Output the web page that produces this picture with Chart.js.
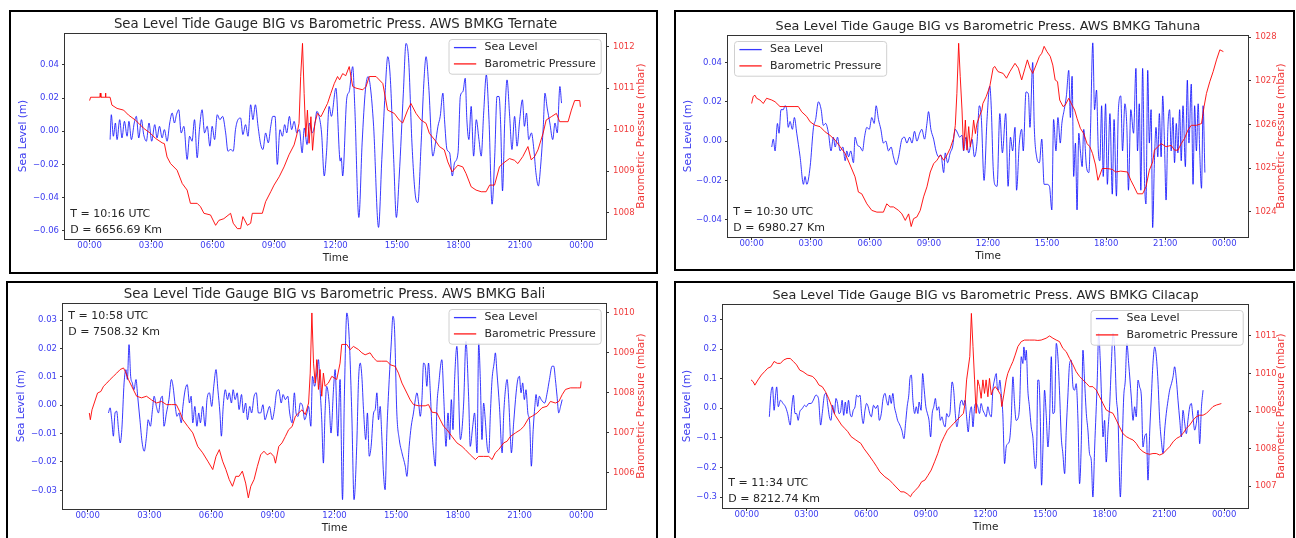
<!DOCTYPE html>
<html>
<head>
<meta charset="utf-8">
<script src="https://cdn.jsdelivr.net/npm/chart.js@4.4.0/dist/chart.umd.min.js"></script>
<style>
  html, body { margin: 0; padding: 0; background: #fff; width: 1296px; height: 538px; overflow: hidden; }
  .panel { position: absolute; border: 2px solid #000; box-sizing: border-box; background: #fff; overflow: hidden; }
  .panel canvas { display: block; }
</style>
</head>
<body>
<div class="panel" style="left:9px;top:10px;width:649px;height:264px"><canvas id="c1" width="645" height="260"></canvas></div>
<div class="panel" style="left:674px;top:10px;width:621px;height:261px"><canvas id="c2" width="617" height="257"></canvas></div>
<div class="panel" style="left:6px;top:281px;width:652px;height:264px"><canvas id="c3" width="648" height="260"></canvas></div>
<div class="panel" style="left:674px;top:281px;width:621px;height:264px"><canvas id="c4" width="617" height="260"></canvas></div>
<script>
// ---- shared axis data ----
const hourTicks = [0, 3, 6, 9, 12, 15, 18, 21, 24];
const hourLabels = ['00:00', '03:00', '06:00', '09:00', '12:00', '15:00', '18:00', '21:00', '00:00'];

// ---- Ternate ----
const ternateSeaTime = [1.0,1.06,1.16,1.26,1.34,1.47,1.58,1.70,1.83,1.92,2.04,2.18,2.28,2.40,2.53,2.64,2.77,2.90,3.03,3.18,3.29,3.41,3.54,3.65,3.78,3.91,4.03,4.14,4.24,4.35,4.47,4.60,4.76,4.88,5.00,5.12,5.25,5.36,5.49,5.61,5.74,5.87,5.98,6.10,6.23,6.36,6.49,6.64,6.75,6.88,7.01,7.12,7.24,7.37,7.48,7.61,7.73,7.86,7.97,8.09,8.22,8.35,8.46,8.59,8.72,8.84,8.94,9.05,9.16,9.29,9.41,9.52,9.62,9.75,9.86,9.98,10.11,10.24,10.37,10.48,10.61,10.73,10.86,10.99,11.09,11.20,11.32,11.45,11.56,11.69,11.80,12.02,12.23,12.28,12.35,12.55,12.67,12.84,12.94,13.14,13.30,13.46,13.59,13.70,13.86,14.10,14.26,14.42,14.55,14.67,14.84,14.97,15.11,15.31,15.44,15.57,15.73,15.90,16.02,16.18,16.31,16.42,16.55,16.75,16.88,17.00,17.11,17.24,17.32,17.44,17.57,17.70,17.81,17.98,18.09,18.22,18.33,18.41,18.51,18.62,18.74,18.87,19.00,19.11,19.23,19.36,19.49,19.64,19.77,19.88,19.98,20.06,20.15,20.26,20.37,20.50,20.61,20.74,20.86,20.99,21.12,21.22,21.32,21.43,21.56,21.68,21.78,21.90,22.01,22.14,22.22,22.33,22.46,22.60,22.71,22.82,22.95,23.03];
const ternateSeaLevel = [-0.005,0.010,-0.003,0.005,-0.005,0.007,-0.004,0.006,-0.003,0.006,-0.005,0.005,0.009,-0.004,0.007,-0.002,-0.006,0.005,-0.006,0.004,-0.004,0.003,-0.004,0.001,-0.006,0.005,0.011,0.005,0.010,0.013,-0.001,0.003,-0.017,-0.003,-0.006,0.007,-0.016,0.001,0.013,-0.001,0.003,-0.009,0.003,-0.005,0.010,0.007,0.009,-0.001,-0.012,-0.011,-0.012,0.001,0.007,0.008,-0.002,0.004,-0.003,0.016,0.007,0.016,0.003,-0.008,-0.011,-0.001,-0.007,0.003,0.009,0.009,-0.020,0.001,-0.003,0.004,-0.001,0.009,0.001,0.006,-0.001,0.001,-0.013,0.002,-0.008,0.005,-0.001,0.004,0.012,0.009,-0.001,-0.027,-0.013,0.015,0.009,0.026,-0.018,-0.016,-0.027,0.020,0.024,0.039,0.015,-0.052,-0.007,0.025,0.033,0.027,0.003,-0.058,-0.017,0.023,0.045,0.033,-0.017,-0.052,-0.027,0.023,0.053,0.043,-0.007,-0.039,-0.043,-0.007,0.029,0.045,0.027,-0.015,-0.007,0.003,0.009,0.023,0.007,-0.011,-0.013,-0.027,-0.019,-0.013,0.021,0.024,0.032,0.007,-0.005,0.015,-0.015,0.007,-0.005,-0.015,0.011,0.034,0.007,-0.044,-0.015,0.021,0.021,0.004,-0.036,0.007,0.031,0.009,-0.011,0.009,-0.009,0.007,0.019,0.003,0.011,-0.005,-0.001,-0.011,-0.025,-0.033,-0.021,0.003,0.023,0.014,0.005,-0.005,0.005,-0.001,0.027,0.017];
const ternatePresTime = [0.0,0.05,0.5,0.52,0.55,0.76,0.77,0.8,1.0,1.09,1.34,1.66,1.9,2.23,2.4,2.64,2.97,3.21,3.54,3.65,3.78,3.95,4.27,4.52,4.76,4.92,5.25,5.41,5.58,5.9,6.15,6.31,6.55,6.88,7.01,7.21,7.37,7.48,7.7,7.86,7.94,8.43,8.59,8.84,9.0,9.25,9.49,9.73,9.98,10.11,10.22,10.3,10.39,10.47,10.55,10.63,10.71,10.8,10.88,10.99,11.12,11.29,11.45,11.61,11.77,11.94,12.1,12.2,12.35,12.5,12.67,12.84,13.0,13.33,13.49,13.65,13.98,14.31,14.54,14.87,15.11,15.28,15.52,15.68,15.93,16.17,16.42,16.58,16.91,17.07,17.31,17.48,17.69,17.97,18.21,18.37,18.62,18.86,19.11,19.35,19.52,19.76,20.0,20.16,20.49,20.73,20.9,21.14,21.39,21.55,21.72,21.88,22.13,22.28,22.53,22.78,22.94,23.35,23.51,23.67,23.92,23.95];
const ternatePressure = [1010.7,1010.78,1010.78,1010.88,1010.78,1010.78,1010.88,1010.78,1010.78,1010.59,1010.51,1010.47,1010.35,1010.23,1010.15,1010.03,1009.91,1009.79,1009.68,1009.66,1009.34,1009.18,1009.02,1008.70,1008.54,1008.22,1008.22,1008.14,1007.98,1007.94,1007.69,1007.81,1007.85,1007.98,1007.74,1007.61,1007.61,1007.9,1007.69,1007.74,1007.98,1007.98,1008.26,1008.50,1008.66,1008.86,1009.10,1009.39,1009.63,1009.87,1010.15,1011.28,1012.08,1010.87,1009.83,1010.47,1009.67,1010.31,1009.50,1010.15,1010.39,1010.31,1010.47,1010.63,1010.87,1011.11,1011.28,1011.2,1011.35,1011.3,1011.52,1011.04,1011.0,1010.96,1011.04,1011.28,1011.28,1011.11,1010.47,1010.39,1010.23,1010.16,1010.47,1010.63,1010.39,1010.23,1010.15,1009.91,1009.71,1009.59,1009.51,1009.22,1008.98,1009.14,1009.10,1008.94,1008.62,1008.54,1008.50,1008.50,1008.66,1008.66,1009.10,1009.18,1009.30,1009.26,1009.18,1009.35,1009.59,1009.27,1009.35,1009.51,1009.91,1010.23,1010.31,1010.39,1010.19,1010.19,1010.47,1010.70,1010.70,1010.55];
const ternateSeaTicks = [-0.06, -0.04, -0.02, 0, 0.02, 0.04];
const ternatePresTicks = [1008, 1009, 1010, 1011, 1012];
const ternateNote = ['T = 10:16 UTC', 'D = 6656.69 Km'];

// ---- Tahuna ----
const tahunaSeaTime = [1.02,1.10,1.19,1.31,1.39,1.49,1.61,1.69,1.78,1.86,1.95,2.07,2.17,2.29,2.46,2.63,2.71,2.80,2.97,3.14,3.25,3.39,3.53,3.64,3.76,3.90,4.03,4.15,4.24,4.36,4.49,4.63,4.75,4.83,4.92,5.03,5.17,5.25,5.37,5.51,5.63,5.73,5.85,5.97,6.10,6.22,6.32,6.44,6.56,6.69,6.81,6.95,7.08,7.20,7.34,7.46,7.63,7.76,7.88,8.02,8.14,8.27,8.39,8.53,8.64,8.78,8.90,8.98,9.10,9.24,9.36,9.49,9.61,9.75,9.83,9.95,10.08,10.20,10.34,10.46,10.56,10.68,10.76,10.88,11.02,11.19,11.31,11.44,11.56,11.66,11.80,11.95,12.09,12.17,12.26,12.34,12.46,12.60,12.73,12.90,13.02,13.14,13.25,13.37,13.45,13.59,13.71,13.79,13.93,14.05,14.13,14.27,14.35,14.47,14.61,14.73,14.85,14.99,15.12,15.24,15.33,15.45,15.55,15.67,15.75,15.87,15.98,16.10,16.18,16.27,16.35,16.44,16.52,16.61,16.69,16.78,16.86,17.00,17.12,17.20,17.32,17.41,17.51,17.60,17.68,17.77,17.85,17.97,18.06,18.19,18.31,18.40,18.52,18.62,18.74,18.83,18.95,19.05,19.13,19.25,19.39,19.51,19.59,19.68,19.76,19.85,19.94,20.02,20.11,20.19,20.28,20.36,20.45,20.53,20.62,20.70,20.79,20.87,20.96,21.04,21.13,21.22,21.30,21.39,21.47,21.56,21.64,21.73,21.81,21.90,22.02,22.12,22.20,22.32,22.41,22.49,22.58,22.67,22.75,22.84,22.92,23.01];
const tahunaSeaLevel = [-0.003,0.001,-0.005,0.009,0.004,0.016,0.016,0.018,0.016,0.007,0.010,0.006,0.012,0.004,-0.008,-0.022,-0.018,-0.022,-0.013,0.007,0.011,0.020,0.016,0.008,0.009,0.004,-0.005,0.002,-0.003,0.002,-0.005,-0.003,-0.010,-0.005,-0.008,-0.005,-0.011,0.002,-0.002,-0.003,-0.005,0.002,0.007,0.006,0.012,0.009,0.018,0.011,0.006,-0.001,0.000,-0.005,-0.003,-0.008,-0.012,-0.008,0.001,0.002,-0.001,0.002,-0.001,0.005,0.000,0.004,0.006,0.001,0.009,0.015,0.006,0.001,-0.005,-0.008,-0.007,-0.016,-0.006,-0.011,-0.006,-0.003,0.006,0.004,0.002,0.003,-0.005,0.002,-0.006,0.001,-0.008,-0.001,0.018,0.012,-0.020,0.011,0.028,0.016,-0.013,-0.022,-0.023,0.014,-0.006,0.014,-0.023,0.002,-0.005,0.007,-0.025,-0.001,0.006,-0.005,0.025,0.024,0.007,0.040,0.007,-0.008,-0.011,0.001,-0.022,-0.022,-0.023,-0.035,0.011,-0.005,0.012,-0.001,0.009,0.016,0.023,0.036,0.012,0.033,-0.018,-0.001,-0.035,0.004,-0.005,-0.013,0.006,-0.013,-0.016,0.004,0.050,0.016,0.026,-0.005,-0.010,0.018,-0.018,0.019,-0.022,0.014,-0.027,0.011,-0.028,0.016,0.023,-0.005,0.019,0.007,-0.025,0.016,0.004,0.037,-0.005,0.019,-0.025,0.037,-0.018,-0.032,0.036,-0.001,0.016,-0.044,-0.010,0.007,-0.008,0.014,-0.008,0.023,-0.001,-0.030,0.006,0.016,-0.005,0.012,-0.011,0.009,-0.006,0.016,-0.010,0.018,-0.013,0.031,-0.001,0.029,-0.022,0.018,-0.005,0.019,-0.006,-0.024,0.018,-0.016];
const tahunaPresTime = [0.0,0.08,0.17,0.25,0.42,0.59,0.76,1.02,1.19,1.44,1.69,2.20,2.37,2.54,2.80,2.97,3.22,3.47,3.73,3.98,4.24,4.49,4.75,5.00,5.25,5.42,5.59,5.85,6.10,6.36,6.69,6.86,7.03,7.20,7.46,7.63,7.80,7.97,8.10,8.22,8.39,8.56,8.73,8.90,9.07,9.24,9.41,9.58,9.75,9.92,10.08,10.25,10.34,10.42,10.51,10.59,10.68,10.76,10.85,10.93,11.02,11.10,11.19,11.27,11.36,11.44,11.56,11.69,11.74,11.91,12.09,12.26,12.34,12.51,12.77,12.94,13.11,13.37,13.54,13.71,13.88,14.00,14.13,14.27,14.44,14.61,14.73,14.85,14.99,15.16,15.29,15.41,15.53,15.64,15.81,15.92,16.10,16.27,16.40,16.52,16.69,16.86,17.03,17.17,17.31,17.46,17.58,17.68,17.80,18.06,18.31,18.48,18.74,19.08,19.25,19.42,19.59,19.85,20.02,20.19,20.36,20.45,20.62,20.79,21.04,21.30,21.47,21.64,21.81,21.98,22.15,22.32,22.58,22.84,22.97,23.09,23.26,23.43,23.60,23.77,23.95];
const tahunaPressure = [1026.48,1026.64,1026.67,1026.60,1026.56,1026.48,1026.60,1026.56,1026.52,1026.41,1026.41,1026.41,1026.41,1026.29,1026.18,1026.06,1025.98,1025.95,1025.83,1025.75,1025.64,1025.49,1025.33,1025.07,1024.80,1024.45,1024.41,1024.18,1024.03,1023.99,1023.99,1024.18,1024.11,1024.11,1024.03,1023.95,1023.80,1023.95,1023.66,1023.84,1023.88,1024.03,1024.34,1024.57,1024.91,1025.10,1025.18,1025.30,1025.18,1025.30,1025.45,1025.68,1025.98,1026.71,1027.86,1027.10,1026.33,1025.41,1026.10,1025.41,1025.95,1025.49,1025.72,1026.10,1025.79,1026.02,1026.18,1026.33,1026.48,1026.64,1026.87,1027.29,1027.33,1027.21,1027.17,1027.06,1027.21,1027.40,1027.29,1027.02,1027.29,1027.48,1027.29,1027.17,1027.36,1027.56,1027.63,1027.79,1027.67,1027.56,1027.36,1027.02,1026.98,1026.56,1026.41,1026.44,1026.60,1026.44,1026.33,1026.14,1025.91,1025.79,1025.56,1025.49,1025.33,1025.07,1024.72,1024.84,1024.99,1024.99,1024.97,1024.91,1024.93,1024.91,1024.72,1024.57,1024.41,1024.41,1024.57,1024.95,1025.14,1025.41,1025.49,1025.56,1025.49,1025.52,1025.41,1025.41,1025.56,1025.68,1025.87,1025.98,1025.98,1026.02,1026.41,1026.71,1026.98,1027.21,1027.48,1027.71,1027.67];
const tahunaSeaTicks = [-0.04, -0.02, 0, 0.02, 0.04];
const tahunaPresTicks = [1024, 1025, 1026, 1027, 1028];
const tahunaNote = ['T = 10:30 UTC', 'D = 6980.27 Km'];

// ---- Bali ----
const baliSeaTime = [1.01,1.09,1.17,1.25,1.33,1.41,1.50,1.58,1.66,1.77,1.86,1.93,2.01,2.09,2.17,2.25,2.35,2.43,2.54,2.65,2.75,2.86,2.94,3.05,3.15,3.23,3.34,3.44,3.54,3.63,3.71,3.83,3.95,4.07,4.15,4.26,4.34,4.44,4.55,4.63,4.74,4.84,4.95,5.03,5.11,5.21,5.31,5.40,5.48,5.59,5.71,5.80,5.92,6.03,6.13,6.24,6.33,6.43,6.50,6.59,6.69,6.80,6.88,6.99,7.07,7.17,7.27,7.36,7.48,7.57,7.68,7.77,7.88,7.97,8.09,8.20,8.30,8.41,8.52,8.62,8.73,8.84,8.97,9.08,9.18,9.29,9.41,9.50,9.61,9.73,9.82,9.94,10.05,10.13,10.23,10.34,10.45,10.55,10.66,10.74,10.85,10.93,11.03,11.14,11.22,11.30,11.38,11.46,11.54,11.62,11.74,11.83,11.95,12.03,12.16,12.27,12.39,12.48,12.60,12.71,12.84,12.95,13.08,13.17,13.25,13.33,13.41,13.52,13.60,13.69,13.78,13.90,13.98,14.06,14.14,14.22,14.30,14.38,14.46,14.55,14.66,14.76,14.84,14.92,15.03,15.15,15.28,15.44,15.52,15.63,15.73,15.84,15.93,16.01,16.09,16.17,16.25,16.33,16.41,16.49,16.57,16.66,16.74,16.82,16.90,16.98,17.06,17.22,17.31,17.42,17.52,17.60,17.68,17.76,17.84,17.95,18.12,18.28,18.39,18.52,18.60,18.72,18.81,18.93,19.01,19.09,19.17,19.25,19.33,19.42,19.50,19.58,19.66,19.76,19.82,19.90,20.02,20.15,20.23,20.31,20.39,20.47,20.55,20.60,20.71,20.83,20.91,20.99,21.07,21.15,21.23,21.31,21.40,21.49,21.57,21.66,21.74,21.80,21.88,21.96,22.05,22.22,22.34,22.45,22.58,22.66,22.74,22.82,22.90,22.99,23.07];
const baliSeaLevel = [-0.0027,-0.0009,-0.0051,-0.0109,-0.0027,-0.0021,-0.0086,-0.0133,-0.0086,0.0079,0.0126,0.0091,0.0214,0.0102,0.0079,0.0055,0.0091,0.0032,-0.0051,-0.0133,-0.0162,-0.0109,-0.0051,-0.0074,-0.0015,0.0032,-0.0004,-0.0027,0.0020,0.0032,-0.0074,-0.0027,0.0020,0.0091,0.0067,-0.0004,-0.0039,-0.0027,-0.0062,-0.0004,0.0055,0.0073,0.0008,0.0032,-0.0062,-0.0004,-0.0074,-0.0027,-0.0062,-0.0004,-0.0074,0.0020,0.0044,-0.0004,0.0067,0.0126,0.0055,-0.0027,-0.0109,-0.0004,0.0055,0.0020,0.0044,0.0008,0.0055,0.0020,0.0044,-0.0015,0.0038,-0.0027,0.0008,-0.0051,-0.0004,-0.0027,0.0032,0.0044,-0.0027,-0.0027,0.0002,-0.0051,-0.0027,-0.0004,-0.0051,-0.0015,0.0044,0.0055,0.0008,0.0038,0.0020,0.0032,-0.0027,-0.0062,0.0044,-0.0027,-0.0039,0.0008,-0.0004,-0.0051,-0.0027,-0.0004,-0.0074,0.0102,0.0067,0.0114,0.0161,0.0055,-0.0051,-0.0204,-0.0027,0.0067,0.0008,-0.0098,0.0055,0.0126,-0.0109,0.0091,-0.0333,0.0032,0.0326,0.0244,-0.0027,-0.0333,-0.0145,0.0091,0.0149,0.0102,-0.0015,-0.0121,-0.0027,-0.0180,-0.0145,-0.0027,-0.0015,0.0044,-0.0051,-0.0004,-0.0109,-0.0239,-0.0298,-0.0086,0.0091,0.0220,0.0314,0.0267,-0.0027,-0.0121,-0.0168,-0.0215,-0.0251,-0.0145,-0.0074,-0.0027,0.0020,0.0044,0.0008,-0.0039,0.0020,0.0149,0.0138,0.0067,0.0149,0.0044,-0.0086,-0.0168,-0.0215,-0.0004,0.0067,0.0161,0.0032,-0.0145,-0.0027,-0.0121,0.0020,-0.0086,0.0091,0.0208,-0.0121,0.0008,0.0226,0.0032,-0.0145,-0.0074,-0.0027,-0.0168,0.0220,0.0091,-0.0121,0.0008,-0.0051,-0.0145,-0.0168,-0.0027,0.0091,0.0149,0.0185,0.0114,-0.0004,-0.0168,-0.0027,0.0055,0.0091,0.0020,-0.0109,-0.0168,-0.0062,0.0044,0.0091,0.0102,0.0044,0.0079,0.0020,0.0055,-0.0027,-0.0062,-0.0215,-0.0086,-0.0004,0.0038,-0.0004,0.0032,0.0020,0.0008,0.0044,0.0091,0.0138,0.0138,0.0091,0.0032,-0.0027,-0.0004,0.0020];
const baliPresTime = [0.08,0.13,0.21,0.32,0.48,0.64,0.77,0.93,1.09,1.25,1.41,1.58,1.74,1.82,1.98,2.14,2.38,2.62,2.86,3.10,3.34,3.59,3.83,4.07,4.31,4.47,4.63,4.87,5.11,5.35,5.59,5.84,6.08,6.24,6.40,6.56,6.72,6.88,7.04,7.20,7.36,7.52,7.68,7.81,7.93,8.09,8.25,8.41,8.57,8.73,8.89,9.05,9.13,9.29,9.45,9.61,9.77,9.94,10.10,10.26,10.42,10.58,10.74,10.82,10.90,10.98,11.06,11.14,11.22,11.30,11.38,11.46,11.54,11.70,11.87,12.11,12.27,12.35,12.60,12.76,12.92,13.17,13.33,13.49,13.73,13.90,14.06,14.30,14.55,14.71,14.95,15.11,15.28,15.52,15.68,15.84,16.09,16.41,16.57,16.74,16.98,17.14,17.31,17.47,17.71,17.95,18.20,18.36,18.60,18.85,19.01,19.25,19.50,19.66,19.82,19.98,20.23,20.39,20.55,20.80,21.04,21.20,21.44,21.61,21.85,22.09,22.34,22.50,22.74,22.91,23.07,23.23,23.47,23.80,23.96,23.99];
const baliPressure = [1007.49,1007.32,1007.57,1007.74,1007.99,1008.03,1008.16,1008.24,1008.33,1008.41,1008.49,1008.58,1008.62,1008.54,1008.33,1008.16,1007.91,1007.87,1007.91,1007.82,1007.74,1007.78,1007.70,1007.70,1007.70,1007.53,1007.32,1007.15,1006.99,1006.65,1006.49,1006.28,1006.07,1006.40,1006.57,1006.28,1006.07,1005.82,1005.65,1005.90,1005.90,1006.03,1005.73,1005.36,1005.65,1005.82,1006.15,1006.44,1006.53,1006.44,1006.49,1006.40,1006.23,1006.65,1006.74,1006.90,1007.07,1007.15,1007.41,1007.49,1007.57,1007.45,1007.74,1008.49,1010.00,1008.74,1008.24,1008.83,1008.08,1008.58,1007.91,1008.49,1008.16,1008.24,1008.41,1008.33,1008.74,1009.21,1009.21,1009.08,1009.16,1009.08,1009.00,1008.95,1009.00,1008.87,1008.79,1008.79,1008.79,1008.70,1008.66,1008.49,1008.24,1007.99,1007.82,1007.70,1007.67,1007.67,1007.70,1007.51,1007.49,1007.32,1007.15,1007.07,1006.90,1006.74,1006.65,1006.57,1006.44,1006.32,1006.40,1006.40,1006.40,1006.32,1006.49,1006.57,1006.74,1006.78,1006.90,1006.99,1007.07,1007.15,1007.36,1007.41,1007.49,1007.62,1007.66,1007.78,1007.74,1007.78,1007.95,1008.08,1008.12,1008.12,1008.12,1008.28];
const baliSeaTicks = [-0.03, -0.02, -0.01, 0, 0.01, 0.02, 0.03];
const baliPresTicks = [1006, 1007, 1008, 1009, 1010];
const baliNote = ['T = 10:58 UTC', 'D = 7508.32 Km'];

// ---- Cilacap ----
const cilacapSeaTime = [1.13,1.21,1.29,1.37,1.45,1.50,1.58,1.69,1.82,1.94,2.05,2.18,2.26,2.34,2.42,2.50,2.58,2.66,2.79,2.90,2.98,3.11,3.23,3.34,3.47,3.60,3.71,3.79,3.90,3.98,4.08,4.15,4.23,4.31,4.40,4.48,4.56,4.63,4.71,4.79,4.87,4.95,5.03,5.11,5.19,5.27,5.35,5.44,5.52,5.60,5.69,5.77,5.85,5.94,6.02,6.10,6.18,6.26,6.37,6.48,6.58,6.66,6.76,6.85,6.95,7.02,7.10,7.18,7.26,7.34,7.42,7.50,7.58,7.66,7.79,7.90,7.98,8.06,8.15,8.19,8.27,8.35,8.44,8.52,8.60,8.66,8.76,8.84,8.92,9.00,9.08,9.16,9.24,9.32,9.40,9.48,9.56,9.65,9.73,9.81,9.89,9.97,10.05,10.13,10.21,10.32,10.40,10.48,10.56,10.65,10.73,10.81,10.89,10.97,11.05,11.13,11.21,11.29,11.37,11.45,11.53,11.61,11.70,11.78,11.87,11.95,12.03,12.12,12.20,12.29,12.37,12.45,12.54,12.59,12.65,12.72,12.79,12.87,12.96,13.04,13.12,13.21,13.29,13.38,13.46,13.54,13.63,13.71,13.80,13.88,13.93,14.00,14.05,14.13,14.21,14.30,14.38,14.50,14.57,14.63,14.68,14.75,14.82,14.89,14.97,15.05,15.14,15.22,15.31,15.39,15.47,15.56,15.64,15.72,15.81,15.89,15.98,16.06,16.14,16.23,16.31,16.40,16.48,16.56,16.65,16.73,16.82,16.90,16.98,17.07,17.15,17.23,17.32,17.40,17.49,17.62,17.69,17.77,17.86,17.91,17.99,18.07,18.16,18.24,18.33,18.41,18.49,18.58,18.66,18.78,18.86,18.95,19.03,19.11,19.20,19.33,19.42,19.50,19.58,19.67,19.75,19.84,19.92,20.00,20.09,20.17,20.26,20.34,20.42,20.51,20.59,20.67,20.76,20.84,20.93,21.01,21.09,21.18,21.26,21.35,21.43,21.51,21.60,21.68,21.77,21.85,21.93,22.02,22.10,22.18,22.27,22.35,22.43,22.52,22.60,22.69,22.77,22.86,22.94];
const cilacapSeaLevel = [-0.029,0.050,0.072,-0.007,0.050,0.072,0.005,0.027,0.016,0.005,-0.018,-0.057,0.005,0.044,-0.018,-0.018,-0.041,-0.012,-0.001,0.010,0.005,0.016,0.016,0.027,0.044,0.033,-0.057,-0.018,0.044,0.050,0.005,-0.029,-0.041,0.010,-0.018,0.033,0.016,-0.018,-0.012,0.027,-0.024,0.021,-0.018,0.027,-0.018,-0.029,-0.007,0.005,0.044,0.038,0.044,-0.018,-0.052,-0.007,0.016,0.005,-0.018,-0.029,0.010,-0.001,0.010,-0.041,-0.018,0.033,0.050,0.027,0.010,0.044,0.016,0.050,0.005,-0.018,-0.041,-0.052,-0.074,-0.103,-0.052,0.005,0.050,0.095,0.112,0.027,-0.018,0.005,-0.018,0.021,-0.007,0.117,0.061,0.005,-0.018,-0.041,-0.097,-0.018,0.005,0.033,-0.007,0.005,-0.041,-0.029,-0.052,-0.063,-0.018,-0.029,-0.018,0.089,0.061,-0.018,-0.063,-0.029,0.016,0.027,0.010,0.027,-0.029,-0.080,-0.018,0.005,-0.063,0.005,0.016,0.005,-0.018,0.016,-0.007,-0.018,-0.029,0.005,-0.018,-0.029,0.061,0.095,0.117,0.072,0.061,0.095,0.050,-0.018,-0.187,-0.131,-0.120,-0.108,-0.041,0.106,0.016,-0.041,-0.035,0.005,0.174,0.151,0.207,0.162,0.196,0.061,0.005,-0.063,-0.097,-0.204,-0.153,0.095,0.095,-0.018,-0.260,-0.131,0.061,-0.018,-0.131,-0.041,0.174,-0.018,-0.012,0.219,0.174,0.061,-0.097,-0.153,-0.221,-0.074,0.038,0.151,0.162,0.072,0.061,0.083,-0.041,-0.255,-0.108,0.196,0.095,-0.018,-0.074,-0.153,-0.176,-0.300,-0.131,0.095,0.253,0.162,-0.018,-0.097,-0.041,-0.182,-0.074,0.005,0.151,0.253,0.207,0.038,-0.029,-0.300,-0.153,0.038,0.095,0.219,0.151,0.038,-0.041,0.005,-0.029,0.095,0.072,0.038,-0.131,-0.097,-0.086,-0.243,-0.074,0.038,0.151,0.207,0.174,0.095,-0.041,-0.108,-0.153,-0.074,-0.018,0.027,0.061,0.083,0.106,0.140,0.095,0.027,-0.041,-0.097,-0.007,-0.052,-0.086,-0.041,0.005,0.016,-0.029,-0.074,-0.052,-0.007,-0.120,0.005,0.061];
const cilacapPresTime = [0.21,0.32,0.40,0.56,0.73,0.89,1.05,1.21,1.37,1.53,1.69,1.85,2.02,2.18,2.34,2.50,2.66,2.82,3.06,3.31,3.47,3.63,3.79,3.95,4.11,4.27,4.44,4.60,4.76,4.92,5.08,5.24,5.48,5.73,5.89,6.13,6.37,6.53,6.69,6.94,7.18,7.34,7.50,7.74,7.90,8.06,8.23,8.31,8.47,8.63,8.79,8.95,9.11,9.27,9.44,9.60,9.76,9.92,10.08,10.24,10.40,10.56,10.73,10.89,10.97,11.05,11.21,11.29,11.37,11.45,11.53,11.61,11.70,11.78,11.87,11.95,12.03,12.12,12.20,12.29,12.37,12.49,12.62,12.76,12.82,12.92,13.04,13.12,13.26,13.38,13.49,13.63,13.80,13.96,14.21,14.47,14.63,14.80,15.05,15.22,15.39,15.56,15.72,15.89,16.06,16.23,16.40,16.56,16.73,16.90,17.07,17.23,17.40,17.57,17.74,17.91,18.07,18.24,18.41,18.58,18.74,18.91,19.08,19.25,19.42,19.58,19.75,19.92,20.09,20.26,20.42,20.59,20.76,20.93,21.09,21.26,21.43,21.60,21.77,21.93,22.10,22.27,22.44,22.60,22.77,22.94,23.11,23.28,23.44,23.61,23.86];
const cilacapPressure = [1009.83,1009.78,1009.69,1009.83,1009.96,1010.05,1010.14,1010.18,1010.32,1010.27,1010.27,1010.36,1010.40,1010.40,1010.32,1010.23,1010.09,1010.05,1009.96,1009.92,1009.83,1009.69,1009.65,1009.52,1009.34,1009.12,1008.89,1008.76,1008.63,1008.54,1008.45,1008.32,1008.23,1008.14,1008.00,1007.83,1007.65,1007.52,1007.38,1007.25,1007.16,1007.07,1006.98,1006.85,1006.85,1006.80,1006.72,1006.80,1006.89,1006.98,1007.12,1007.16,1007.29,1007.43,1007.65,1007.87,1008.14,1008.32,1008.49,1008.58,1008.67,1008.76,1008.85,1008.94,1009.20,1009.83,1010.45,1011.60,1010.72,1009.83,1008.94,1009.83,1009.65,1009.34,1009.83,1009.47,1009.83,1009.38,1009.87,1009.43,1009.56,1009.65,1009.56,1009.43,1009.12,1009.43,1009.83,1010.00,1010.18,1010.32,1010.49,1010.72,1010.85,1010.89,1010.89,1010.89,1010.88,1010.89,1010.94,1011.00,1010.94,1010.89,1010.85,1010.67,1010.58,1010.40,1010.23,1010.05,1009.92,1009.83,1009.74,1009.65,1009.65,1009.56,1009.38,1009.20,1009.03,1008.98,1008.94,1008.76,1008.58,1008.40,1008.32,1008.27,1008.23,1008.14,1008.00,1007.92,1007.87,1007.85,1007.87,1007.87,1007.83,1007.87,1007.96,1008.05,1008.18,1008.27,1008.32,1008.40,1008.54,1008.63,1008.76,1008.85,1008.89,1008.89,1008.94,1009.03,1009.12,1009.16,1009.20];
const cilacapSeaTicks = [-0.3, -0.2, -0.1, 0, 0.1, 0.2, 0.3];
const cilacapPresTicks = [1007, 1008, 1009, 1010, 1011];
const cilacapNote = ['T = 11:34 UTC', 'D = 8212.74 Km'];

// ---- styling ----
const FONT = 'DejaVu Sans';
const SEA_LINE = 'rgba(0, 0, 255, 0.78)';
const PRES_LINE = 'rgba(255, 0, 0, 0.9)';
const SEA_TEXT = '#3c3cf0';
const PRES_TEXT = '#f03c3c';
const DARK = '#262626';

const panels = [
    { id: 'c1', station: 'Ternate', seaT: ternateSeaTime, seaV: ternateSeaLevel, presT: ternatePresTime, presV: ternatePressure,
      seaRange: [-0.065, 0.0593], presRange: [1007.36, 1012.33], seaTicks: ternateSeaTicks, seaDec: 2, presTicks: ternatePresTicks,
      note: ternateNote, noteAt: 'bottom', legendAt: 'right',
      box: { left: 54, top: 21, right: 50, bottom: 33, yTitleGap: 41.7, rTitleGap: 35.7, titleSize: 13.3 } },
    { id: 'c2', station: 'Tahuna', seaT: tahunaSeaTime, seaV: tahunaSeaLevel, presT: tahunaPresTime, presV: tahunaPressure,
      seaRange: [-0.0488, 0.054], presRange: [1023.42, 1028.05], seaTicks: tahunaSeaTicks, seaDec: 2, presTicks: tahunaPresTicks,
      note: tahunaNote, noteAt: 'bottom', legendAt: 'left',
      box: { left: 52, top: 23, right: 45, bottom: 32, yTitleGap: 40, rTitleGap: 33, titleSize: 12.8 } },
    { id: 'c3', station: 'Bali', seaT: baliSeaTime, seaV: baliSeaLevel, presT: baliPresTime, presV: baliPressure,
      seaRange: [-0.0366, 0.0361], presRange: [1005.08, 1010.25], seaTicks: baliSeaTicks, seaDec: 2, presTicks: baliPresTicks,
      note: baliNote, noteAt: 'top', legendAt: 'right',
      box: { left: 55, top: 20, right: 50, bottom: 34, yTitleGap: 41.6, rTitleGap: 35.7, titleSize: 13.4 } },
    { id: 'c4', station: 'Cilacap', seaT: cilacapSeaTime, seaV: cilacapSeaLevel, presT: cilacapPresTime, presV: cilacapPressure,
      seaRange: [-0.337, 0.352], presRange: [1006.42, 1011.85], seaTicks: cilacapSeaTicks, seaDec: 1, presTicks: cilacapPresTicks,
      note: cilacapNote, noteAt: 'bottom', legendAt: 'right',
      box: { left: 47, top: 21, right: 45, bottom: 35, yTitleGap: 35.6, rTitleGap: 33, titleSize: 12.8 } }
];

function fmtSigned(v, dec) {
    const s = Math.abs(v).toFixed(dec);
    return v < -1e-9 ? '\u2212' + s : s;
}

// Title, frame, right axis label, legend and text notes
const panelDecor = {
    id: 'panelDecor',
    afterDraw(chart, args, opts) {
        const { ctx, chartArea: a } = chart;
        ctx.save();

        // axes frame
        ctx.strokeStyle = '#333';
        ctx.lineWidth = 1;
        ctx.strokeRect(Math.round(a.left) - 0.5, Math.round(a.top) + 0.5,
                       Math.round(a.right - a.left) + 1, Math.round(a.bottom - a.top));

        // title
        ctx.fillStyle = DARK;
        ctx.font = opts.titleSize + 'px "' + FONT + '"';
        ctx.textAlign = 'center';
        ctx.textBaseline = 'middle';
        ctx.fillText(opts.title, (a.left + a.right) / 2, a.top - 8.5);

        // right axis label, reading bottom to top
        ctx.save();
        ctx.translate(a.right + opts.rTitleGap, (a.top + a.bottom) / 2);
        ctx.rotate(-Math.PI / 2);
        ctx.fillStyle = PRES_TEXT;
        ctx.font = '10.5px "' + FONT + '"';
        ctx.fillText('Barometric Pressure (mbar)', 0, 0);
        ctx.restore();

        // notes
        ctx.fillStyle = DARK;
        ctx.font = '11px "' + FONT + '"';
        ctx.textAlign = 'left';
        const ny = opts.noteAt === 'top' ? [a.top + 13.4, a.top + 29.4] : [a.bottom - 25, a.bottom - 8.5];
        opts.note.forEach((t, i) => ctx.fillText(t, a.left + 5.3, ny[i]));

        // legend
        const items = chart.data.datasets.map(d => ({ text: d.label, color: d.borderColor }));
        ctx.font = '11px "' + FONT + '"';
        const tw = Math.max(...items.map(it => ctx.measureText(it.text).width));
        const w = 36 + tw + 5, h = 34.7;
        const x0 = opts.legendAt === 'left' ? a.left + 6 : a.right - 5.3 - w;
        const y0 = a.top + 6;
        ctx.fillStyle = 'rgba(255,255,255,0.85)';
        ctx.strokeStyle = '#d0d0d0';
        ctx.lineWidth = 1;
        ctx.beginPath();
        ctx.roundRect(x0 + 0.5, y0 + 0.5, w, h, 3);
        ctx.fill();
        ctx.stroke();
        items.forEach((it, i) => {
            const yy = y0 + 8.6 + i * 16.3;
            ctx.strokeStyle = it.color;
            ctx.lineWidth = 1.3;
            ctx.beginPath();
            ctx.moveTo(x0 + 5.4, yy);
            ctx.lineTo(x0 + 27.7, yy);
            ctx.stroke();
            ctx.fillStyle = DARK;
            ctx.fillText(it.text, x0 + 36, yy);
        });
        ctx.restore();
    }
};

function buildPanel(p) {
    const b = p.box;
    const seaData = p.seaT.map((t, i) => ({ x: t, y: p.seaV[i] }));
    const presData = p.presT.map((t, i) => ({ x: t, y: p.presV[i] }));
    const tickFont = { family: FONT, size: 8.5, lineHeight: 1 };

    new Chart(document.getElementById(p.id), {
        type: 'line',
        data: {
            datasets: [
                { label: 'Sea Level', data: seaData, yAxisID: 'ySea', borderColor: SEA_LINE, borderWidth: 1,
                  pointRadius: 0, cubicInterpolationMode: 'monotone', order: 2 },
                { label: 'Barometric Pressure', data: presData, yAxisID: 'yPres', borderColor: PRES_LINE, borderWidth: 1,
                  pointRadius: 0, tension: 0, order: 1 }
            ]
        },
        options: {
            responsive: false,
            animation: false,
            events: [],
            layout: { padding: { top: b.top, left: 0, right: 0, bottom: 0 } },
            plugins: {
                legend: { display: false },
                tooltip: { enabled: false },
                panelDecor: {
                    title: 'Sea Level Tide Gauge BIG vs Barometric Press. AWS BMKG ' + p.station,
                    titleSize: b.titleSize,
                    note: p.note, noteAt: p.noteAt, legendAt: p.legendAt, rTitleGap: b.rTitleGap
                }
            },
            scales: {
                x: {
                    type: 'linear', position: 'bottom', min: -1.2, max: 25.2,
                    afterBuildTicks: s => { s.ticks = hourTicks.map(v => ({ value: v })); },
                    afterFit: s => { s.height = b.bottom; },
                    grid: { display: true, drawOnChartArea: false, drawTicks: true, tickLength: 3, color: '#333' },
                    border: { display: false },
                    ticks: { color: SEA_TEXT, font: tickFont, padding: 0, autoSkip: false, maxRotation: 0,
                             callback: v => hourLabels[hourTicks.indexOf(v)] },
                    title: { display: true, text: 'Time', color: DARK, font: { family: FONT, size: 10.5 },
                             padding: { top: 0, bottom: b.bottom - 19.5 - 6.3 } }
                },
                ySea: {
                    type: 'linear', position: 'left', min: p.seaRange[0], max: p.seaRange[1],
                    afterBuildTicks: s => { s.ticks = p.seaTicks.map(v => ({ value: v })); },
                    afterFit: s => { s.width = b.left; },
                    grid: { display: true, drawOnChartArea: false, drawTicks: true, tickLength: 3, color: '#333' },
                    border: { display: false },
                    ticks: { color: SEA_TEXT, font: tickFont, padding: 3, callback: v => fmtSigned(v, p.seaDec) },
                    title: { display: true, text: 'Sea Level (m)', color: SEA_TEXT, font: { family: FONT, size: 10.5 },
                             padding: { top: b.left - b.yTitleGap - 6.3, bottom: 0 } }
                },
                yPres: {
                    type: 'linear', position: 'right', min: p.presRange[0], max: p.presRange[1],
                    afterBuildTicks: s => { s.ticks = p.presTicks.map(v => ({ value: v })); },
                    afterFit: s => { s.width = b.right; },
                    grid: { display: true, drawOnChartArea: false, drawTicks: true, tickLength: 3, color: '#333' },
                    border: { display: false },
                    ticks: { color: PRES_TEXT, font: tickFont, padding: 4, callback: v => String(v) }
                }
            }
        },
        plugins: [panelDecor]
    });
}

panels.forEach(buildPanel);
</script>
</body>
</html>
